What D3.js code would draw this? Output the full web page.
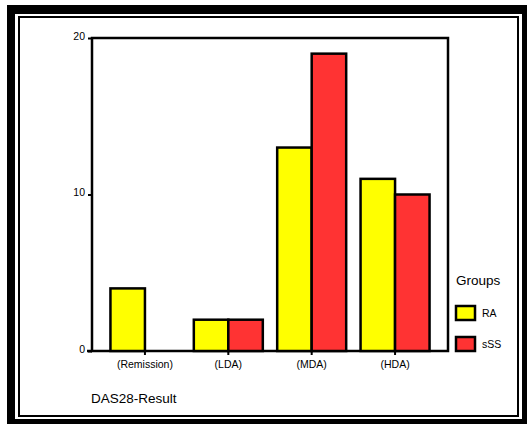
<!DOCTYPE html>
<html><head><meta charset="utf-8">
<script src="https://cdn.jsdelivr.net/npm/d3@7"></script>
<style>body{margin:0;background:#fff}svg{display:block;font-family:"Liberation Sans",Arial,sans-serif}</style>
</head><body><svg id="c" width="527" height="424"></svg>
<script>
const categories = ["(Remission)", "(LDA)", "(MDA)", "(HDA)"];
const groups = ["RA", "sSS"];
const raValues = [4, 2, 13, 11];
const sssValues = [0, 2, 19, 10];
const yTicks = [0, 10, 20];
const groupColors = ["#ffff00", "#ff3333"];

const svg = d3.select("#c");
// frame
svg.append("rect").attr("x",7).attr("y",5).attr("width",520).attr("height",419).attr("fill","#000");
svg.append("rect").attr("x",15).attr("y",14).attr("width",507).attr("height",405).attr("fill","#fff");
svg.append("rect").attr("x",19).attr("y",17).attr("width",499).attr("height",399).attr("fill","#fff").attr("stroke","#000").attr("stroke-width",2);

const L=92, R=448, T=38, B=351;
const x0 = d3.scaleBand().domain(categories).range([L,R]).paddingOuter(0.135).paddingInner(0);
const x1 = d3.scaleBand().domain(groups).range([0,69]);
const y = d3.scaleLinear().domain([0,20]).range([B,T]);

const data = categories.map((c,i)=>({cat:c, vals:[raValues[i], sssValues[i]]}));

// plot box
svg.append("rect").attr("x",L).attr("y",T).attr("width",R-L).attr("height",B-T).attr("fill","none").attr("stroke","#000").attr("stroke-width",2.5);

const g = svg.append("g");
data.forEach(d=>{
  const cx = x0(d.cat)+x0.bandwidth()/2;
  groups.forEach((gr,j)=>{
    const v=d.vals[j];
    if(v<=0) return;
    g.append("rect").attr("x",cx-34.5+x1(gr)).attr("y",y(v)).attr("width",x1.bandwidth()).attr("height",y(0)-y(v))
      .attr("fill",groupColors[j]).attr("stroke","#000").attr("stroke-width",2.5);
  });
});

// y axis
const ya = svg.append("g").attr("transform",`translate(${L},0)`).call(d3.axisLeft(y).tickValues(yTicks).tickSize(4).tickPadding(3));
ya.select(".domain").remove();
ya.selectAll("line").attr("stroke","#000").attr("stroke-width",2);
ya.selectAll("text").attr("font-size",10.5).attr("dy","0.1em").attr("font-family","Liberation Sans, Arial, sans-serif").attr("fill","#000");

// x axis
const xa = svg.append("g").attr("transform",`translate(0,${B})`).call(d3.axisBottom(x0).tickSize(4).tickPadding(6));
xa.select(".domain").remove();
xa.selectAll("line").attr("stroke","#000").attr("stroke-width",2);
xa.selectAll("text").attr("font-size",10.5).attr("font-family","Liberation Sans, Arial, sans-serif").attr("fill","#000");
svg.append("line").attr("x1",87).attr("x2",L).attr("y1",B).attr("y2",B).attr("stroke","#000").attr("stroke-width",2.5);

svg.append("text").attr("x",91).attr("y",403).attr("font-size",13.5).text("DAS28-Result");

// legend
svg.append("text").attr("x",456).attr("y",285).attr("font-size",13.5).text("Groups");
groups.forEach((gr,j)=>{
  const yy = 306 + j*31;
  svg.append("rect").attr("x",456).attr("y",yy).attr("width",19).attr("height",14).attr("fill",groupColors[j]).attr("stroke","#000").attr("stroke-width",2.5);
  svg.append("text").attr("x",482).attr("y",yy+11).attr("font-size",10.5).text(gr);
});
</script></body></html>
